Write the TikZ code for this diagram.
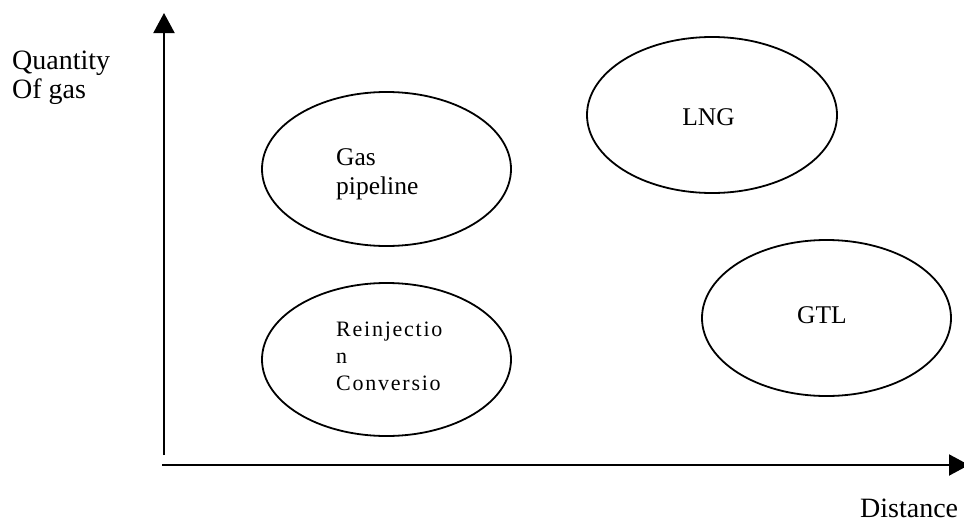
\documentclass[tikz,border=0pt]{standalone}
\usepackage{fontspec}
\setmainfont{Liberation Serif}
\newfontfamily\spacedserif[LetterSpace=8]{Liberation Serif}
\usetikzlibrary{arrows.meta,shapes.geometric}

\tikzset{
  axis/.style={line width=2pt, -{Triangle[length=20pt,width=21pt]}},
  region/.style={draw, ellipse, line width=1.8pt, inner sep=0pt},
  % multi-line nodes: the base anchor sits on the last line's baseline
  axislabel/.style={anchor=base west, inner sep=0pt, align=left,
    font=\fontsize{28pt}{29pt}\selectfont},
  regionlabel/.style={anchor=base west, inner sep=0pt, align=left,
    font=\fontsize{25.5pt}{29pt}\selectfont},
}

\begin{document}
\begin{tikzpicture}[x=1pt, y=-1pt]
  \useasboundingbox (0,0) rectangle (964,525);

  % axes
  \coordinate (origin) at (164,455);
  \coordinate (ytip) at (164,13);
  \coordinate (xstart) at (162,465);
  \coordinate (xtip) at (969,465);
  \draw[axis] (origin) -- (ytip);
  \draw[axis] (xstart) -- (xtip);

  % axis labels
  \node[axislabel] (ylabel) at (12,98) {Quantity\\Of gas};
  \node[axislabel] (xlabel) at (860,517) {Distance};

  % transport options
  \node[region, minimum width=249pt, minimum height=154pt] (pipe) at (386.5,169) {};
  \node[region, minimum width=249pt, minimum height=153pt] (reinj) at (386.5,359.5) {};
  \node[region, minimum width=250pt, minimum height=156pt] (lng) at (712,115) {};
  \node[region, minimum width=249pt, minimum height=156pt] (gtl) at (826.5,318) {};

  \node[regionlabel] (pipetext) at (336,194) {Gas\\pipeline};
  \node[anchor=base west, inner sep=0pt, align=left,
        font=\spacedserif\fontsize{22pt}{26.7pt}\selectfont]
        (reinjtext) at (336,390) {Reinjectio\\n\\Conversio};
  \node[regionlabel, anchor=base] (lngtext) at (708.5,125) {LNG};
  \node[regionlabel, anchor=base] (gtltext) at (822,323) {GTL};
\end{tikzpicture}
\end{document}
